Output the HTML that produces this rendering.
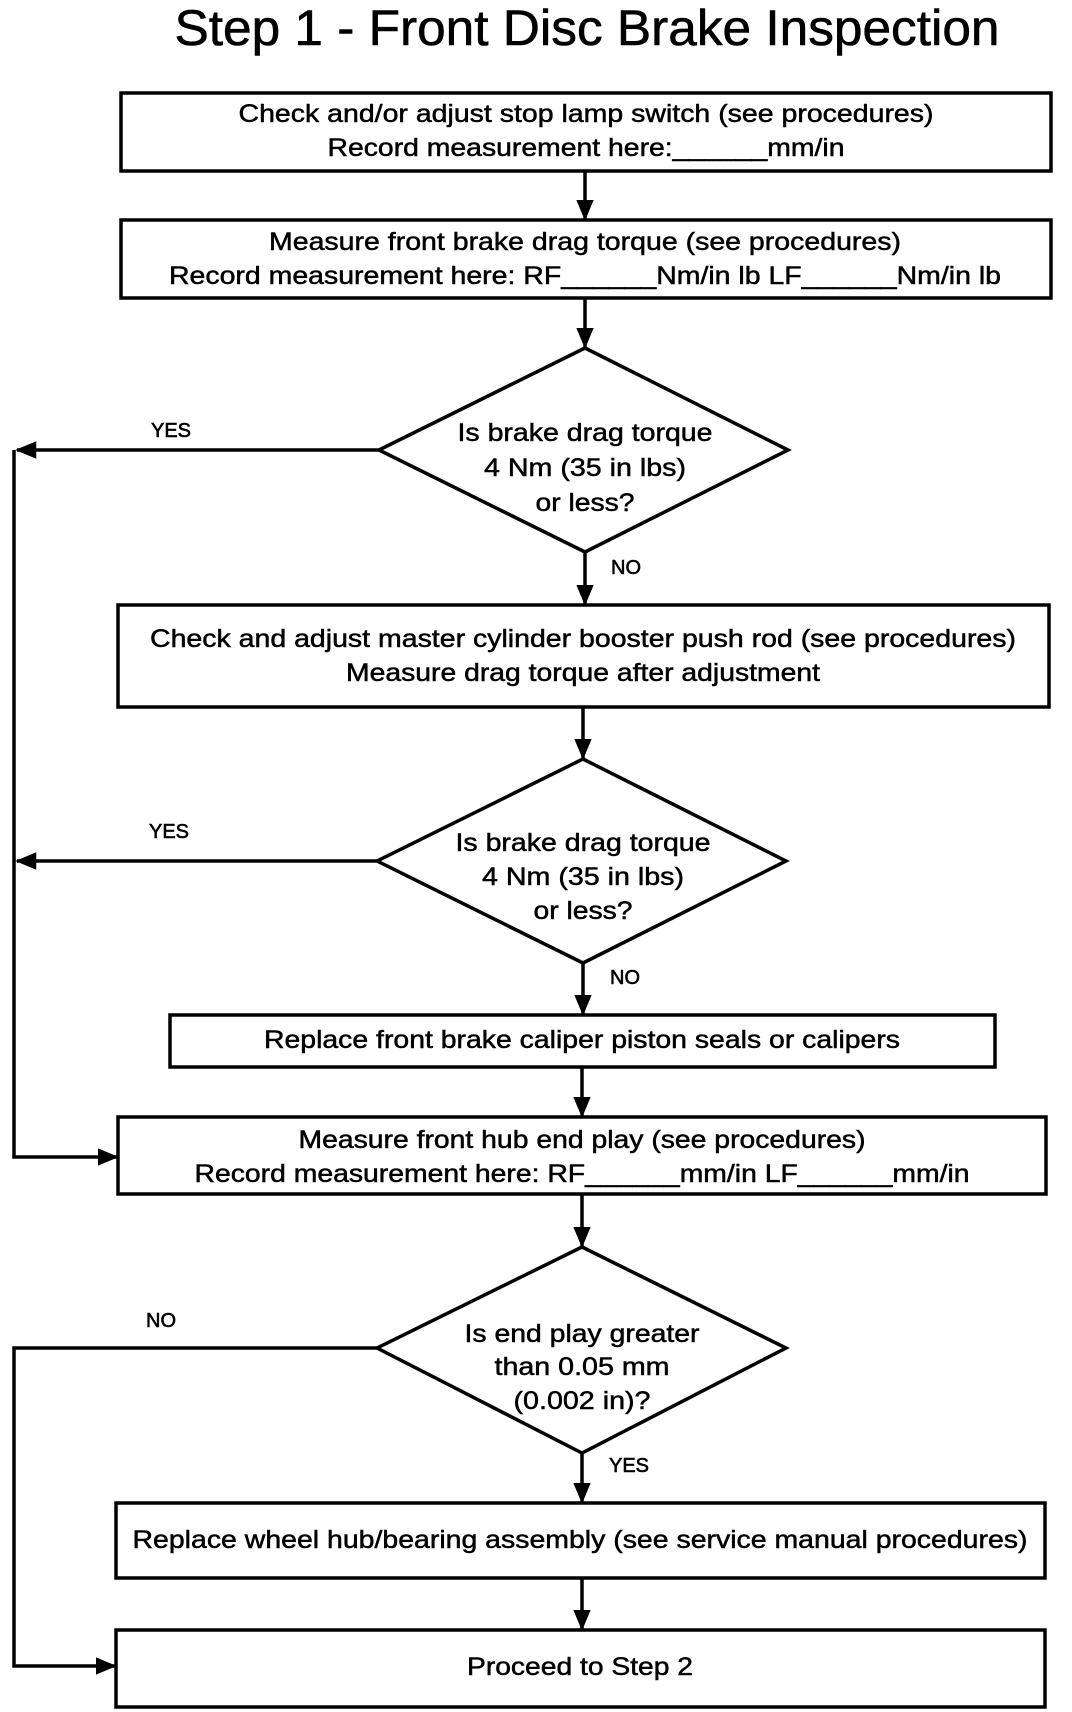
<!DOCTYPE html>
<html><head><meta charset="utf-8"><style>body{margin:0;background:#fff}svg{display:block}</style></head>
<body>
<svg width="1072" height="1712" viewBox="0 0 1072 1712" xmlns="http://www.w3.org/2000/svg" font-family="Liberation Sans, Arial, sans-serif">
<defs>
<marker id="a" markerWidth="6" markerHeight="5" refX="5.5" refY="2.5" orient="auto" markerUnits="strokeWidth"><path d="M0,0 L6,2.5 L0,5 z" fill="#000"/></marker>
</defs>
<rect width="1072" height="1712" fill="#fff"/>
<text x="587" y="45" font-size="50" text-anchor="middle" textLength="825" lengthAdjust="spacingAndGlyphs" stroke="#000" stroke-width="0.6">Step 1 - Front Disc Brake Inspection</text>
<g fill="none" stroke="#000" stroke-width="3.5">
<rect x="121" y="93" width="930" height="78"/>
<rect x="121" y="220" width="930" height="78"/>
<polygon points="585,348 788,450 585,552 379,450"/>
<rect x="118" y="605" width="931" height="102"/>
<polygon points="583,759 786,861 583,963 377,861"/>
<rect x="170" y="1015" width="825" height="52"/>
<rect x="118" y="1117" width="928" height="77"/>
<polygon points="582,1247 786,1348 582,1453 377,1348"/>
<rect x="116" y="1503" width="929" height="75"/>
<rect x="116" y="1630" width="929" height="77"/>
</g>
<g stroke="#000" stroke-width="3.5" fill="none" marker-end="url(#a)">
<line x1="585" y1="171" x2="585" y2="219"/>
<line x1="585" y1="298" x2="585" y2="347"/>
<line x1="585" y1="552" x2="585" y2="604"/>
<line x1="583" y1="707" x2="583" y2="758"/>
<line x1="583" y1="963" x2="583" y2="1014"/>
<line x1="582" y1="1067" x2="582" y2="1116"/>
<line x1="582" y1="1194" x2="582" y2="1246"/>
<line x1="582" y1="1453" x2="582" y2="1502"/>
<line x1="582" y1="1578" x2="582" y2="1629"/>
<line x1="379" y1="450" x2="17" y2="450"/>
<line x1="377" y1="861" x2="17" y2="861"/>
<polyline points="14,450 14,1157 117,1157"/>
<polyline points="377,1348 14,1348 14,1666 115,1666"/>
</g>
<g font-size="25" text-anchor="middle" stroke="#000" stroke-width="0.5">
<text x="586" y="122" textLength="695" lengthAdjust="spacingAndGlyphs">Check and/or adjust stop lamp switch (see procedures)</text>
<text x="586" y="156" textLength="517" lengthAdjust="spacingAndGlyphs">Record measurement here:______mm/in</text>
<text x="585" y="250" textLength="632" lengthAdjust="spacingAndGlyphs">Measure front brake drag torque (see procedures)</text>
<text x="585" y="284" textLength="832" lengthAdjust="spacingAndGlyphs">Record measurement here:  RF______Nm/in lb  LF______Nm/in lb</text>
<text x="585" y="441" textLength="255" lengthAdjust="spacingAndGlyphs">Is brake drag torque</text>
<text x="585" y="476" textLength="202" lengthAdjust="spacingAndGlyphs">4 Nm (35 in lbs)</text>
<text x="585" y="511" textLength="99" lengthAdjust="spacingAndGlyphs">or less?</text>
<text x="583" y="647" textLength="866" lengthAdjust="spacingAndGlyphs">Check and adjust master cylinder booster push rod (see procedures)</text>
<text x="583" y="681" textLength="474" lengthAdjust="spacingAndGlyphs">Measure drag torque after adjustment</text>
<text x="583" y="851" textLength="255" lengthAdjust="spacingAndGlyphs">Is brake drag torque</text>
<text x="583" y="885" textLength="202" lengthAdjust="spacingAndGlyphs">4 Nm (35 in lbs)</text>
<text x="583" y="919" textLength="99" lengthAdjust="spacingAndGlyphs">or less?</text>
<text x="582" y="1048" textLength="636" lengthAdjust="spacingAndGlyphs">Replace front brake caliper piston seals or calipers</text>
<text x="582" y="1148" textLength="567" lengthAdjust="spacingAndGlyphs">Measure front hub end play (see procedures)</text>
<text x="582" y="1182" textLength="775" lengthAdjust="spacingAndGlyphs">Record measurement here:  RF______mm/in  LF______mm/in</text>
<text x="582" y="1342" textLength="235" lengthAdjust="spacingAndGlyphs">Is end play greater</text>
<text x="582" y="1375" textLength="175" lengthAdjust="spacingAndGlyphs">than 0.05 mm</text>
<text x="582" y="1409" textLength="137" lengthAdjust="spacingAndGlyphs">(0.002 in)?</text>
<text x="580" y="1548" textLength="895" lengthAdjust="spacingAndGlyphs">Replace wheel hub/bearing assembly (see service manual procedures)</text>
<text x="580" y="1675" textLength="226" lengthAdjust="spacingAndGlyphs">Proceed to Step 2</text>
</g>
<g font-size="20" text-anchor="middle" stroke="#000" stroke-width="0.6">
<text x="171" y="437">YES</text>
<text x="626" y="574">NO</text>
<text x="169" y="838">YES</text>
<text x="625" y="984">NO</text>
<text x="161" y="1327">NO</text>
<text x="629" y="1472">YES</text>
</g>
</svg>
</body></html>
